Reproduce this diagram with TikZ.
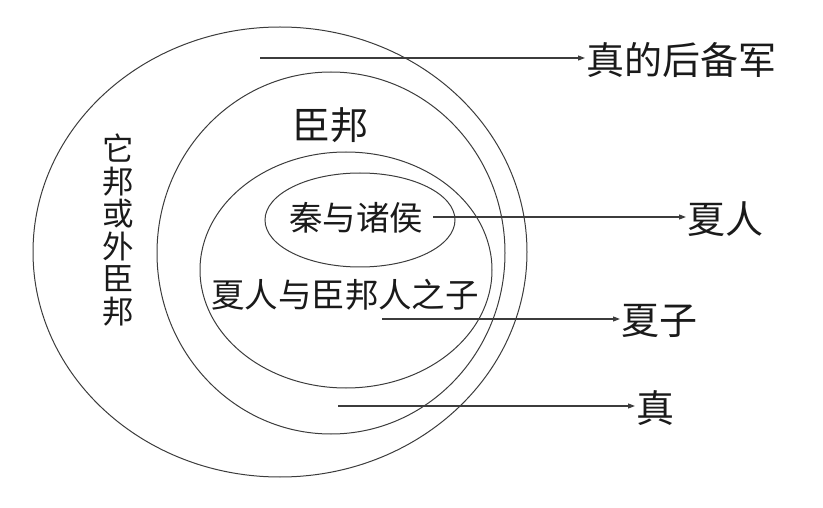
\documentclass[tikz,border=0pt]{standalone}
\usepackage{fontspec}
\newfontfamily\cjk{Noto Sans CJK SC}
\usetikzlibrary{arrows.meta}
\definecolor{ringcol}{HTML}{3C3C3C}
\definecolor{txtcol}{HTML}{1A1A1A}
\tikzset{
  ring/.style={draw=ringcol, line width=1pt},
  arr/.style={draw=ringcol, line width=1.1pt, -{Triangle[length=7pt,width=5pt]}},
  big/.style={font=\cjk\fontsize{38}{42}\selectfont, text=txtcol, inner sep=1.5pt},
  mid/.style={font=\cjk\fontsize{33.5}{38}\selectfont, text=txtcol, inner sep=2pt},
}
\begin{document}
\begin{tikzpicture}[x=1pt,y=-1pt]
\useasboundingbox (0,0) rectangle (823,508);
% rings
\draw[ring] (280,252) ellipse [x radius=247pt, y radius=225pt];
\draw[ring] (331,253) ellipse [x radius=174pt, y radius=181pt];
\draw[ring] (346,270) ellipse [x radius=146pt, y radius=118pt];
\draw[ring] (360,220) ellipse [x radius=95pt, y radius=47pt];
% inner texts
\node[big] (chenbang) at (330,125) {臣邦};
\node[mid] (qin) at (356,218) {秦与诸侯};
\node[mid] (xiaren) at (345,295) {夏人与臣邦人之子};
\node[font=\cjk\fontsize{31.5}{32.5}\selectfont, text=txtcol, align=center, inner sep=0pt] (tabang) at (118,230) {它\\邦\\或\\外\\臣\\邦};
% right labels
\node[big, anchor=west] (l1) at (585,60) {真的后备军};
\node[big, anchor=west] (l2) at (686,219) {夏人};
\node[big, anchor=west] (l3) at (620,321) {夏子};
\node[big, anchor=west] (l4) at (635,408) {真};
% arrow starts
\coordinate (s1) at (260,58);
\coordinate (s2) at (433,217);
\coordinate (s3) at (382,319);
\coordinate (s4) at (338,406);
\draw[arr] (s1) -- (s1 -| l1.west);
\draw[arr] (s2) -- (s2 -| l2.west);
\draw[arr] (s3) -- (s3 -| l3.west);
\draw[arr] (s4) -- (s4 -| l4.west);
\end{tikzpicture}
\end{document}
